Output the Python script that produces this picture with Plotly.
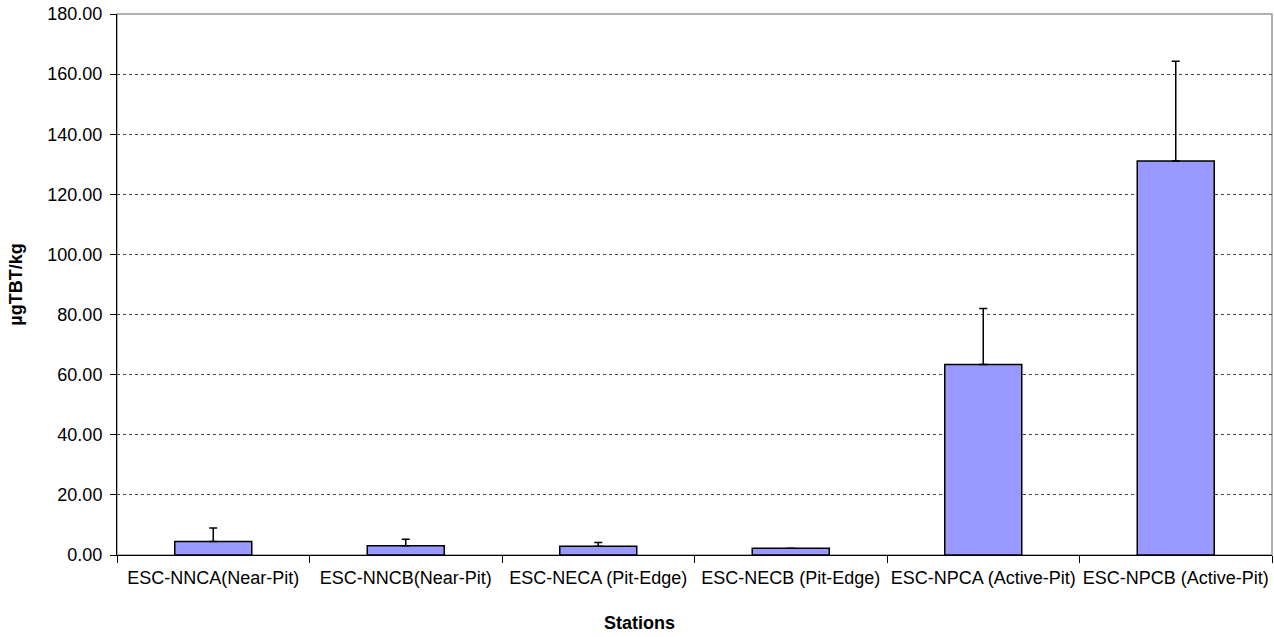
import plotly.graph_objects as go

stations = [
    "ESC-NNCA(Near-Pit)",
    "ESC-NNCB(Near-Pit)",
    "ESC-NECA (Pit-Edge)",
    "ESC-NECB (Pit-Edge)",
    "ESC-NPCA (Active-Pit)",
    "ESC-NPCB (Active-Pit)",
]
tbt_values = [4.46, 3.10, 2.90, 2.25, 63.4, 131.1]
tbt_errors = [4.5, 2.1, 1.3, None, 18.6, 33.2]
y_ticks = [0, 20, 40, 60, 80, 100, 120, 140, 160, 180]

FONT = "Liberation Sans, Arial, sans-serif"

fig = go.Figure()
fig.add_trace(go.Bar(
    x=stations,
    y=tbt_values,
    marker=dict(color="#9999FF", line=dict(color="#000000", width=1.5)),
    error_y=dict(type="data", array=tbt_errors, symmetric=False, arrayminus=[0]*6,
                 color="#000000", thickness=1.5, width=4, visible=True),
    width=0.4,
))

fig.update_layout(
    width=1274, height=637,
    margin=dict(l=117, r=2, t=14, b=82),
    paper_bgcolor="white", plot_bgcolor="white",
    showlegend=False,
    font=dict(family=FONT, size=18, color="#000000"),
    xaxis=dict(
        showline=True, linecolor="#000000", linewidth=1,
        ticks="outside", tickson="boundaries", ticklen=7, tickcolor="#000000",
        tickfont=dict(size=18), tickangle=0, showgrid=False, automargin=False,
        ticklabelstandoff=6,
    ),
    yaxis=dict(
        range=[0, 180], tickvals=y_ticks, tickformat=".2f",
        showline=True, linecolor="#000000", linewidth=1,
        ticks="outside", ticklen=6, tickcolor="#000000",
        showgrid=True, gridcolor="#444444", gridwidth=1, griddash="dot",
        zeroline=False, automargin=False, ticklabelstandoff=4,
        title=dict(text="<b>µgTBT/kg</b>", font=dict(size=18), standoff=20),
        tickfont=dict(size=18),
    ),
    shapes=[dict(type="rect", xref="paper", yref="paper", x0=0, x1=1, y0=0, y1=1,
                 line=dict(color="#999999", width=1.5), layer="below")],
    annotations=[dict(text="<b>Stations</b>", xref="paper", yref="paper",
                      x=0.452, y=-0.125, xanchor="center", yanchor="middle",
                      showarrow=False, font=dict(size=18))],
)

fig.write_html("out.html", config={"displayModeBar": False},
               post_script="document.body.style.margin='0';document.body.style.overflow='hidden';")
